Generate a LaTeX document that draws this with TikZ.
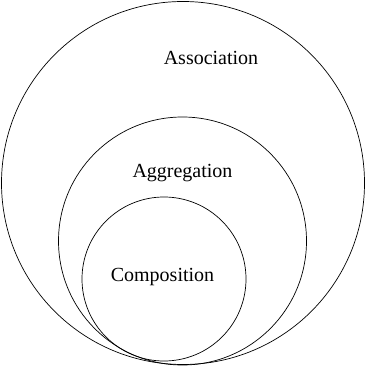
\documentclass[tikz,border=0pt]{standalone}
\usepackage{fontspec}
\setmainfont{Liberation Serif}
\usetikzlibrary{positioning}
\tikzset{
  ring/.style={circle, draw=black, line width=0.7pt, inner sep=0pt},
  lbl/.style={font=\fontsize{20}{24}\selectfont, inner sep=0pt},
}
\begin{document}
\begin{tikzpicture}[x=1pt, y=-1pt]
  \useasboundingbox (0,0) rectangle (366,366);

  % nested sets
  \node[ring, minimum size=363pt] (assoc) at (183,183) {};
  \node[ring, minimum size=248pt] (aggr)  at (182.5,241) {};
  \node[ring, minimum size=164pt] (comp)  at (164,279) {};

  % labels
  \node[lbl] (assoclbl) at (211,58)  {Association};
  \node[lbl] (aggrlbl)  at (182.5,173) {Aggregation};
  \node[lbl] (complbl)  at (162.5,277) {Composition};
\end{tikzpicture}
\end{document}
